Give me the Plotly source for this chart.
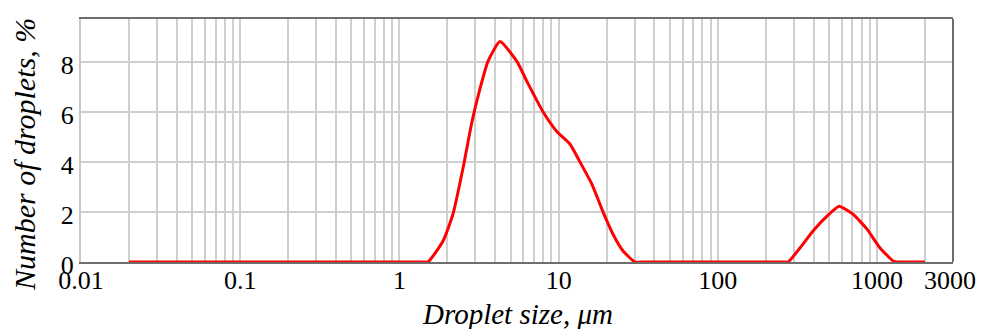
import plotly.graph_objects as go

# Droplet size (µm) and number of droplets (%)
droplet_size = [0.02, 0.5, 1.2, 1.4, 1.51, 1.88, 2.17, 2.51, 2.86, 3.21, 3.60, 4.28, 5.48, 6.33, 7.98, 9.77,
                11.8, 13.6, 16.2, 19.0, 22.0, 25.4, 30.2, 35, 100, 250, 276, 328, 396, 485, 577, 706, 865,
                1044, 1262, 1336, 1450, 2000]
number_pct = [0, 0, 0, 0, 0, 0.84, 1.91, 3.75, 5.62, 6.93, 8.01, 8.8, 8.0, 7.2, 6.0, 5.2,
              4.7, 4.0, 3.1, 2.0, 1.1, 0.44, 0, 0, 0, 0, 0, 0.56, 1.24, 1.83, 2.23, 1.91, 1.31,
              0.56, 0.04, 0, 0, 0]

x_tick_labels = {0.01: "0.01", 0.1: "0.1", 1: "1", 10: "10", 100: "100", 1000: "1000"}
y_ticks = [0, 2, 4, 6, 8]

grid_vals = []
for dec in [0.01, 0.1, 1, 10, 100, 1000]:
    for m in range(1, 10):
        v = round(dec * m, 6)
        if v <= 3000:
            grid_vals.append(v)
grid_text = [x_tick_labels.get(v, "") for v in grid_vals]

FONT = "Liberation Serif"

fig = go.Figure()
fig.add_trace(go.Scatter(
    x=droplet_size, y=number_pct, mode="lines",
    line=dict(color="#ff0000", width=3, shape="spline", smoothing=0.5),
    showlegend=False,
))

# page body has an 8px default margin, so the figure is sized to fit inside the window
fig.update_layout(
    width=977, height=321,
    margin=dict(l=73, r=32, t=9, b=67),
    paper_bgcolor="white", plot_bgcolor="white",
    font=dict(family=FONT, size=26, color="black"),
    xaxis=dict(
        type="log", range=[-2, 3.4771],
        tickmode="array", tickvals=grid_vals, ticktext=grid_text,
        showgrid=True, gridcolor="#cfcfcf", gridwidth=2,
        showline=True, linecolor="#6e6e6e", linewidth=2, mirror=True,
        ticks="", zeroline=False, ticklabelstandoff=-6,
        tickfont=dict(family=FONT, size=26),
    ),
    yaxis=dict(
        range=[0, 9.7], tickmode="array", tickvals=y_ticks,
        showgrid=True, gridcolor="#cfcfcf", gridwidth=2,
        showline=True, linecolor="#c8c8c8", linewidth=2,
        ticks="", zeroline=False, ticklabelshift=3,
        tickfont=dict(family=FONT, size=26),
    ),
    shapes=[dict(type="line", xref="paper", yref="paper", x0=1, x1=1, y0=0, y1=1,
                 line=dict(color="#6e6e6e", width=2))],
    annotations=[
        dict(text="3000", xref="paper", yref="paper", x=1.0287, y=-0.075,
             xanchor="right", yanchor="middle", showarrow=False,
             font=dict(family=FONT, size=26)),
        dict(text="Droplet size, μm", xref="paper", yref="paper", x=0.5, y=-0.212,
             xanchor="center", yanchor="middle", showarrow=False,
             font=dict(family=FONT, size=29, style="italic")),
        dict(text="Number of droplets, %", xref="paper", yref="paper", x=-0.064, y=0.441,
             xanchor="center", yanchor="middle", textangle=-90, showarrow=False,
             font=dict(family=FONT, size=30, style="italic")),
    ],
)

fig.write_html("out.html")
